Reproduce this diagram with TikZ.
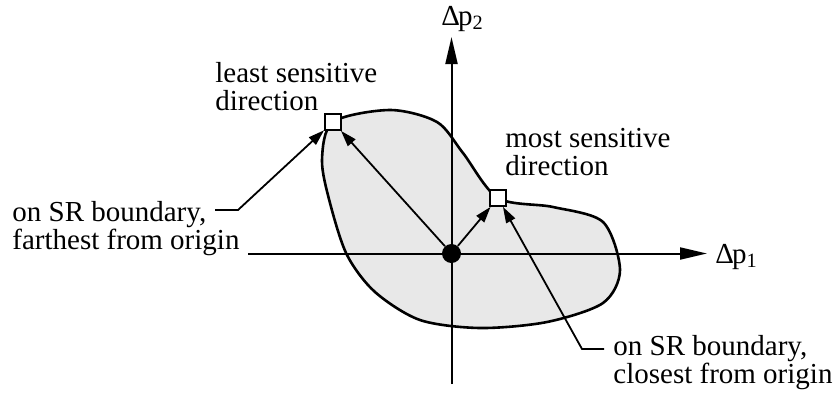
\documentclass[tikz,border=0pt]{standalone}
\usepackage{fontspec}
\setmainfont{Liberation Serif}
\usetikzlibrary{arrows.meta}
\definecolor{regionfill}{RGB}{232,232,232}

\begin{document}
\begin{tikzpicture}[
    x=0.5pt, y=-0.5pt,
    axis/.style={line width=1pt, -{Triangle[length=13.5pt,width=6pt]}},
    pointer/.style={line width=0.9pt, -{Triangle[length=8pt,width=5pt]}},
    txt/.style={inner sep=0pt, align=left, anchor=base west,
        font=\fontsize{14.5pt}{14pt}\selectfont},
    probe/.style={draw, fill=white, line width=0.9pt, minimum size=8pt, inner sep=0pt}
  ]
  \useasboundingbox (0,0) rectangle (834,397);

  \draw[fill=regionfill, line width=1.3pt] plot[smooth cycle] coordinates {
      (333,122) (390,110) (437,122) (463,153) (498,198) (553,207)
      (603,222) (620,270) (603,303) (547,322) (480,328) (420,320)
      (375,292) (347,255) (330,203) (322,160)};

  \coordinate (xneg) at (248,253.5);
  \coordinate (xpos) at (707,253.5);
  \coordinate (yneg) at (451.5,384);
  \coordinate (ypos) at (451.5,37);
  \draw[axis] (xneg) -- (xpos);
  \draw[axis] (yneg) -- (ypos);
  \node[txt] (dp1) at (715,263) {Δ\kern-1pt p\textsubscript{1}};
  \node[txt] (dp2) at (441,25) {Δ\kern-1pt p\textsubscript{2}};

  \node[circle, fill, inner sep=0pt, minimum size=9.5pt] (o) at (451.5,253.5) {};
  \node[probe] (ls) at (333,122) {};
  \node[probe] (ms) at (498,198) {};

  \draw[pointer] (o) -- (ls);
  \draw[pointer] (o) -- (ms);

  \node[txt] (lslbl) at (215,110) {least sensitive\\direction};
  \node[txt] (mslbl) at (505,175) {most sensitive\\direction};
  \node[txt] (farlbl) at (12,249) {on SR boundary,\\farthest from origin};
  \node[txt] (closelbl) at (613,383) {on SR boundary,\\closest from origin};

  \coordinate (farstart) at (215,210);
  \coordinate (farbend) at (238,210);
  \coordinate (closestart) at (604,349);
  \coordinate (closebend) at (582,349);
  \draw[pointer] (farstart) -- (farbend) -- (ls);
  \draw[pointer] (closestart) -- (closebend) -- (ms);
\end{tikzpicture}
\end{document}
